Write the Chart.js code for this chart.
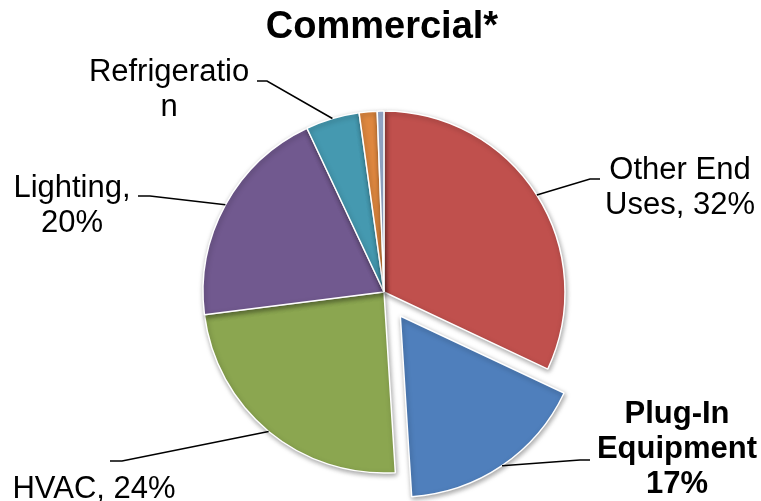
<!DOCTYPE html>
<html>
<head>
<meta charset="utf-8">
<script src="https://cdn.jsdelivr.net/npm/chart.js@4/dist/chart.umd.min.js"></script>
<style>
  body { margin: 0; background: #fff; }
  #wrap { width: 761px; height: 501px; }
</style>
</head>
<body>
<div id="wrap"><canvas id="endUseChart" width="761" height="501"></canvas></div>
<script>
// End-use shares, clockwise from 12 o'clock
const categories = ['Other End Uses', 'Plug-In Equipment', 'HVAC', 'Lighting', 'Refrigeration', 'Cooking', 'Other'];
const shares = [32, 17, 24, 20, 4.8, 1.6, 0.6];
const sliceColors = ['#c0504d', '#4f7fbc', '#8ba650', '#71598f', '#4599b0', '#de873f', '#9db1d4'];
const explodeIndex = 1;
const explodeDistance = 29;

// Callout text per slice (null = no label drawn)
const calloutLines = [
    ['Other End', 'Uses, 32%'],
    ['Plug-In', 'Equipment', '17%'],
    ['HVAC, 24%'],
    ['Lighting,', '20%'],
    ['Refrigeratio', 'n'],
    null,
    null
];
const calloutBold = [false, true, false, false, false, false, false];

// text centre x, first baseline y, and the elbow of the leader line
const calloutLayout = [
    { x: 680, y: 179, elbow: [[600, 179], [590, 179]] },
    { x: 677, y: 423, elbow: [[590, 460], [580, 460]] },
    { x: 94, y: 498, elbow: [[110, 461], [122, 461]] },
    { x: 72, y: 197, elbow: [[138, 196], [150, 196]] },
    { x: 169, y: 81, elbow: [[257, 81], [267, 81]] }
];

const labelFont = '31px "Liberation Sans", Arial, sans-serif';
const labelBoldFont = 'bold 31px "Liberation Sans", Arial, sans-serif';
const lineHeight = 35;

// pull the highlighted slice out along its bisector
const explodeSlice = {
    id: 'explodeSlice',
    afterDatasetUpdate(chart, args) {
        const arc = chart.getDatasetMeta(args.index).data[explodeIndex];
        if (!arc) return;
        const mid = (arc.startAngle + arc.endAngle) / 2;
        arc.x += Math.cos(mid) * explodeDistance;
        arc.y += Math.sin(mid) * explodeDistance;
    }
};

// soft drop shadow under the pie
const pieShadow = {
    id: 'pieShadow',
    beforeDatasetsDraw(chart) {
        const ctx = chart.ctx;
        ctx.save();
        ctx.shadowColor = 'rgba(0, 0, 0, 0.35)';
        ctx.shadowBlur = 5;
        ctx.shadowOffsetX = 1;
        ctx.shadowOffsetY = 2;
    },
    afterDatasetsDraw(chart) {
        chart.ctx.restore();
    }
};

// title, callout labels and leader lines
const callouts = {
    id: 'callouts',
    afterDraw(chart) {
        const ctx = chart.ctx;
        ctx.save();
        ctx.fillStyle = '#000';
        ctx.textAlign = 'center';
        ctx.textBaseline = 'alphabetic';
        ctx.font = 'bold 38px "Liberation Sans", Arial, sans-serif';
        ctx.fillText('Commercial*', 382, 38);

        const meta = chart.getDatasetMeta(0);
        meta.data.forEach(function (arc, i) {
            const lines = calloutLines[i];
            if (!lines) return;
            const lay = calloutLayout[i];
            const mid = (arc.startAngle + arc.endAngle) / 2;
            const ax = arc.x + Math.cos(mid) * arc.outerRadius;
            const ay = arc.y + Math.sin(mid) * arc.outerRadius;

            ctx.beginPath();
            ctx.strokeStyle = '#000';
            ctx.lineWidth = 1.5;
            ctx.moveTo(lay.elbow[0][0], lay.elbow[0][1]);
            ctx.lineTo(lay.elbow[1][0], lay.elbow[1][1]);
            ctx.lineTo(ax, ay);
            ctx.stroke();

            ctx.font = calloutBold[i] ? labelBoldFont : labelFont;
            lines.forEach(function (t, k) {
                ctx.fillText(t, lay.x, lay.y + k * lineHeight);
            });
        });
        ctx.restore();
    }
};

new Chart(document.getElementById('endUseChart'), {
    type: 'pie',
    data: {
        labels: categories,
        datasets: [{
            data: shares,
            backgroundColor: sliceColors,
            borderColor: '#ffffff',
            borderWidth: 1.5
        }]
    },
    options: {
        responsive: false,
        animation: false,
        radius: 181,
        layout: {
            padding: { left: 7, right: 0, top: 83, bottom: 0 }
        },
        plugins: {
            legend: { display: false },
            tooltip: { enabled: false }
        }
    },
    plugins: [explodeSlice, pieShadow, callouts]
});
</script>
</body>
</html>
